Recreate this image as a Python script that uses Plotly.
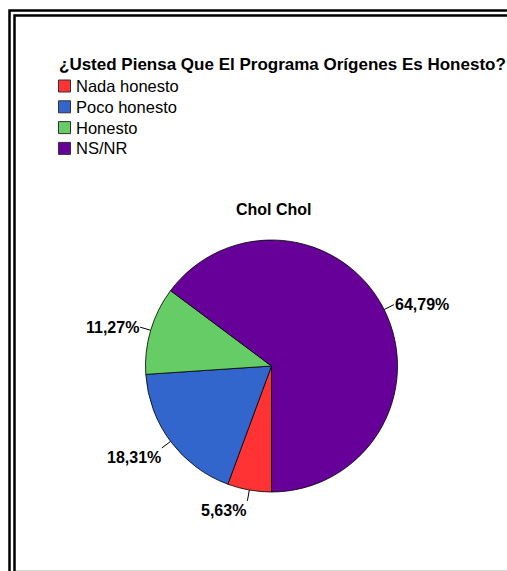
import math
import plotly.graph_objects as go

# ---- data ----
categories = ["Nada honesto", "Poco honesto", "Honesto", "NS/NR"]
values = [5.63, 18.31, 11.27, 64.79]
value_labels = ["5,63%", "18,31%", "11,27%", "64,79%"]
colors = ["#FF3333", "#3366CC", "#66CC66", "#660099"]
title_text = "¿Usted Piensa Que El Programa Orígenes Es Honesto?"
subtitle_text = "Chol Chol"

W, H = 507, 571
FONT = "Liberation Sans, Arial, sans-serif"

# pie geometry (pixels)
cx, cy, r = 271.5, 366.0, 126.0
rotation = 180

def px_x(x):
    return x / W

def px_y(y):
    return 1 - y / H

fig = go.Figure()
fig.add_trace(go.Pie(
    labels=categories,
    values=values,
    marker=dict(colors=colors, line=dict(color="black", width=0.8)),
    sort=False,
    direction="clockwise",
    rotation=rotation,
    textinfo="none",
    hoverinfo="label+percent",
    showlegend=False,
    domain=dict(x=[px_x(cx - r), px_x(cx + r)], y=[px_y(cy + r), px_y(cy - r)]),
))

annotations = []
shapes = []

# slice labels with leader lines, positioned from the slice angles
total = sum(values)
cum = 0.0
for v, lab in zip(values, value_labels):
    mid = rotation + 360.0 * (cum + v / 2.0) / total
    cum += v
    th = math.radians(mid)
    s, c = math.sin(th), math.cos(th)
    hx, hy = cx + r * s, cy - r * c
    lead = 11
    xanchor = "left" if s >= 0 else "right"
    yanchor = "top" if c < -0.5 else ("bottom" if c > 0.5 else "middle")
    annotations.append(dict(
        x=px_x(hx), y=px_y(hy), xref="paper", yref="paper",
        ax=lead * s, ay=-lead * c, axref="pixel", ayref="pixel",
        text=lab, showarrow=True, arrowhead=0, arrowwidth=1, arrowcolor="black",
        xanchor=xanchor, yanchor=yanchor, borderpad=0,
        font=dict(family=FONT, size=16, color="black", weight="bold"),
    ))

# main title
annotations.append(dict(
    x=px_x(57), y=px_y(65), xref="paper", yref="paper", showarrow=False,
    xanchor="left", yanchor="middle", text="<b>" + title_text + "</b>",
    font=dict(family=FONT, size=17, color="black"),
))
# pie subtitle
annotations.append(dict(
    x=px_x(274), y=px_y(209), xref="paper", yref="paper", showarrow=False,
    xanchor="center", yanchor="middle", text="<b>" + subtitle_text + "</b>",
    font=dict(family=FONT, size=16, color="black"),
))

# legend (swatches + text)
leg_y0, leg_dy = 86.0, 20.8
for i, (cat, col) in enumerate(zip(categories, colors)):
    yc = leg_y0 + i * leg_dy
    shapes.append(dict(
        type="rect", xref="paper", yref="paper",
        x0=px_x(58.5), x1=px_x(70.5), y0=px_y(yc + 6), y1=px_y(yc - 6),
        fillcolor=col, line=dict(color="#333333", width=1),
    ))
    annotations.append(dict(
        x=px_x(74), y=px_y(yc), xref="paper", yref="paper", showarrow=False,
        xanchor="left", yanchor="middle", text=cat,
        font=dict(family=FONT, size=16.5, color="black"),
    ))

# double frame
shapes.append(dict(type="rect", xref="paper", yref="paper",
                   x0=px_x(9.5), x1=1.2, y0=-0.2, y1=px_y(10.5),
                   line=dict(color="black", width=2.5)))
shapes.append(dict(type="rect", xref="paper", yref="paper",
                   x0=px_x(14.5), x1=1.2, y0=-0.2, y1=px_y(15.5),
                   line=dict(color="black", width=2.5)))
shapes.append(dict(type="line", xref="paper", yref="paper",
                   x0=px_x(16), x1=1.0, y0=px_y(570.5), y1=px_y(570.5),
                   line=dict(color="#d8d8d8", width=1)))

fig.update_layout(
    width=W, height=H,
    margin=dict(l=0, r=0, t=0, b=0),
    paper_bgcolor="white",
    plot_bgcolor="white",
    annotations=annotations,
    shapes=shapes,
    font=dict(family=FONT),
)

fig.write_html(
    "out.html",
    config={"displayModeBar": False},
    post_script="document.body.style.margin='0';document.body.style.overflow='hidden';",
)
